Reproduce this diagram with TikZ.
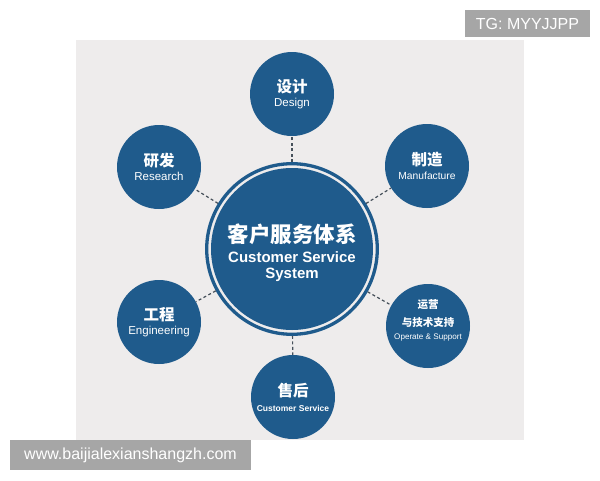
\documentclass[tikz,border=0pt]{standalone}
\usepackage{fontspec}
\setmainfont{Liberation Sans}
\newfontfamily\cjk{Noto Sans CJK SC}
\definecolor{csblue}{RGB}{31,91,140}
\definecolor{panelgray}{RGB}{238,236,236}
\definecolor{linkgray}{RGB}{70,80,90}
\definecolor{wmgray}{RGB}{166,166,166}
\newcommand{\zh}[1]{\cjk\bfseries\fontsize{#1}{#1}\selectfont}
\newcommand{\en}[1]{\rmfamily\mdseries\fontsize{#1}{#1}\selectfont}
\begin{document}
\begin{tikzpicture}[x=1pt,y=-1pt,
	sat/.style={circle,fill=csblue,minimum size=84pt,inner sep=0pt,text=white,align=center},
	hub/.style={circle,fill=csblue,minimum size=162pt,inner sep=0pt,text=white,align=center},
	ring/.style={circle,draw=csblue,line width=3.3pt,minimum size=170.6pt,inner sep=0pt},
	link/.style={draw=linkgray,line width=1.2pt,dash pattern=on 3pt off 2.5pt},
	wmark/.style={fill=wmgray,text=white,inner sep=0pt,font=\fontsize{16}{18}\selectfont}]
	\useasboundingbox (0,0) rectangle (600,480);
	\fill[white] (0,0) rectangle (600,480);
	\fill[panelgray] (76,40) rectangle (524,440);
	%	\draw[red,xstep=50,ystep=50] (0,0) grid (600,480);
	\node[ring] (ring) at (292,249) {};
	\node[hub] (hub) at (292,249) {};
	\node[text=white,align=center] (hubtext) at (292,253) {\zh{21.5}客户服务体系\\[6pt]\en{15}\bfseries Customer Service\\[4pt]\en{15}\bfseries System};
	\node[sat] (design) at (292,94) {\zh{15.5}设计\\[2pt]\en{11.5}Design};
	\node[sat] (research) at (159,167) {\zh{15.5}研发\\[2pt]\en{11.5}Research};
	\node[sat] (manuf) at (427,166) {\zh{15.5}制造\\[2pt]\en{10.3}Manufacture};
	\node[sat] (eng) at (159,322) {\zh{15.5}工程\\[2pt]\en{11.5}Engineering};
	\node[sat] (oper) at (428,326) {};
	\node[text=white,align=center] (opertext) at (428,320) {\zh{10.5}运营\\[6pt]\zh{10.5}与技术支持\\[1pt]\en{8.1}Operate \& Support};
	\node[sat] (aftersale) at (293,397) {\zh{15.5}售后\\[3pt]\en{8.5}\bfseries Customer Service};
	\foreach \s in {design,research,manuf,eng,oper,aftersale}
		\draw[link] (ring) -- (\s);
	\node[wmark,minimum width=125pt,minimum height=27pt] (tg) at (527.5,23.5) {TG: MYYJJPP};
	\node[wmark,minimum width=241pt,minimum height=30pt] (site) at (130.5,455) {www.baijialexianshangzh.com};
\end{tikzpicture}
\end{document}
